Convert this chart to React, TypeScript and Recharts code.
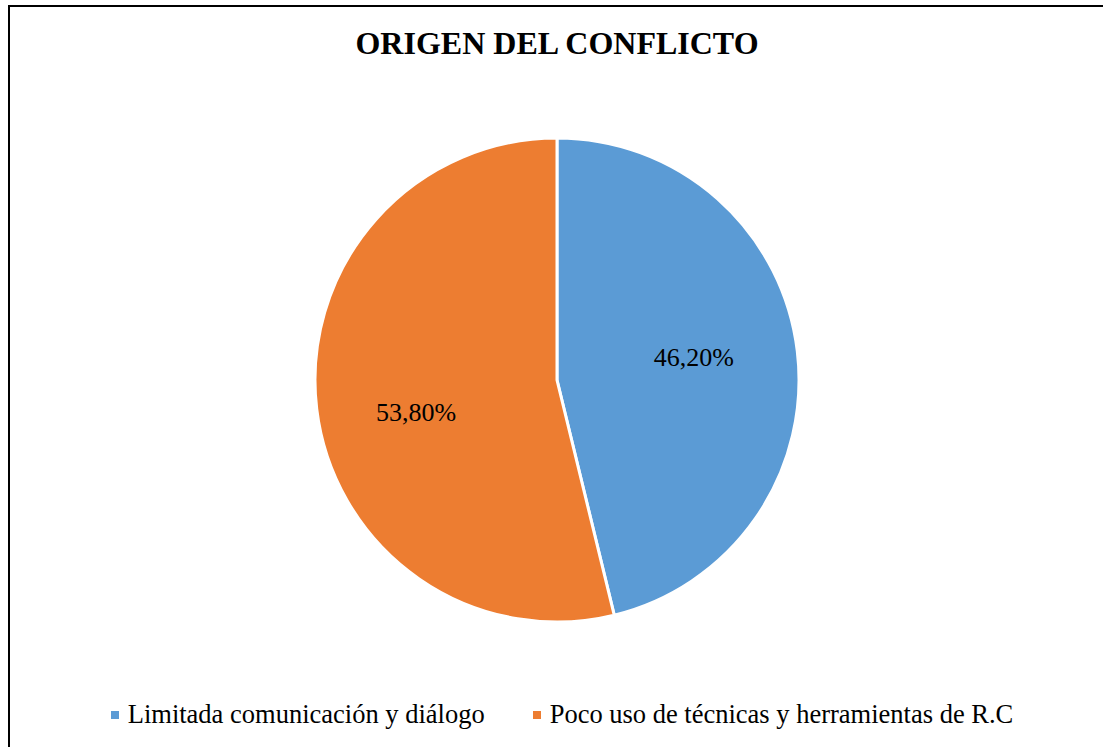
import { PieChart, Pie, Cell, Legend } from "recharts";

const categories = [
    "Limitada comunicación y diálogo",
    "Poco uso de técnicas y herramientas de R.C",
];
const percentages = [46.2, 53.8];
const colors = ["#5B9BD5", "#ED7D31"];

const chartTitle = "ORIGEN DEL CONFLICTO";
const fontFamily = '"Liberation Serif", "Times New Roman", serif';

const data = categories.map((name, i) => ({ name, value: percentages[i] }));

// small per-slice nudges so labels sit where the original best-fit put them
const labelNudge = [
    { dx: 0, dy: -6 },
    { dx: -4, dy: 16 },
];

const RADIAN = Math.PI / 180;

function formatPct(v: number) {
    return v.toFixed(2).replace(".", ",") + "%";
}

function SliceLabel(props: any) {
    const { cx, cy, midAngle, outerRadius, value, index } = props;
    const r = outerRadius * 0.57;
    const nudge = labelNudge[index] || { dx: 0, dy: 0 };
    const x = cx + r * Math.cos(-midAngle * RADIAN) + nudge.dx;
    const y = cy + r * Math.sin(-midAngle * RADIAN) + nudge.dy;
    return (
        <text
            x={x}
            y={y}
            fill="#000"
            textAnchor="middle"
            dominantBaseline="central"
            style={{ fontFamily, fontSize: 26 }}
        >
            {formatPct(value)}
        </text>
    );
}

function LegendContent({ payload }: { payload?: Array<{ value: string; color: string }> }) {
    if (!payload) return null;
    return (
        <div style={{ display: "flex", justifyContent: "center", gap: 48, fontFamily, fontSize: 26.5 }}>
            {payload.map((item, i) => (
                <div key={i} style={{ display: "flex", alignItems: "center" }}>
                    <span
                        style={{
                            display: "inline-block",
                            width: 8,
                            height: 8,
                            background: item.color,
                            marginRight: 9,
                        }}
                    />
                    <span style={{ color: "#000" }}>{item.value}</span>
                </div>
            ))}
        </div>
    );
}

export default function App() {
    return (
        <>
            <style>{"html, body { overflow: hidden; }"}</style>
            <div
                style={{
                    position: "absolute",
                    left: 8,
                    top: 5,
                    width: 1093,
                    height: 740,
                    overflow: "hidden",
                    borderLeft: "2px solid #000",
                    borderTop: "2px solid #000",
                    background: "#fff",
                }}
            >
                <div
                    style={{
                        position: "absolute",
                        left: 0,
                        width: 1094,
                        top: 18,
                        textAlign: "center",
                        fontFamily,
                        fontWeight: "bold",
                        fontSize: 32,
                        color: "#000",
                    }}
                >
                    {chartTitle}
                </div>
                <PieChart width={1093} height={740} margin={{ top: 0, right: 0, bottom: 0, left: 0 }}>
                    <Pie
                        data={data}
                        dataKey="value"
                        nameKey="name"
                        cx={547}
                        cy={373}
                        outerRadius={242}
                        startAngle={90}
                        endAngle={-270}
                        stroke="#fff"
                        strokeWidth={3}
                        label={SliceLabel}
                        labelLine={false}
                        isAnimationActive={false}
                    >
                        {data.map((_, i) => (
                            <Cell key={i} fill={colors[i]} />
                        ))}
                    </Pie>
                    <Legend
                        content={<LegendContent />}
                        wrapperStyle={{ position: "absolute", left: -2, width: 1108, top: 692 }}
                    />
                </PieChart>
            </div>
        </>
    );
}
